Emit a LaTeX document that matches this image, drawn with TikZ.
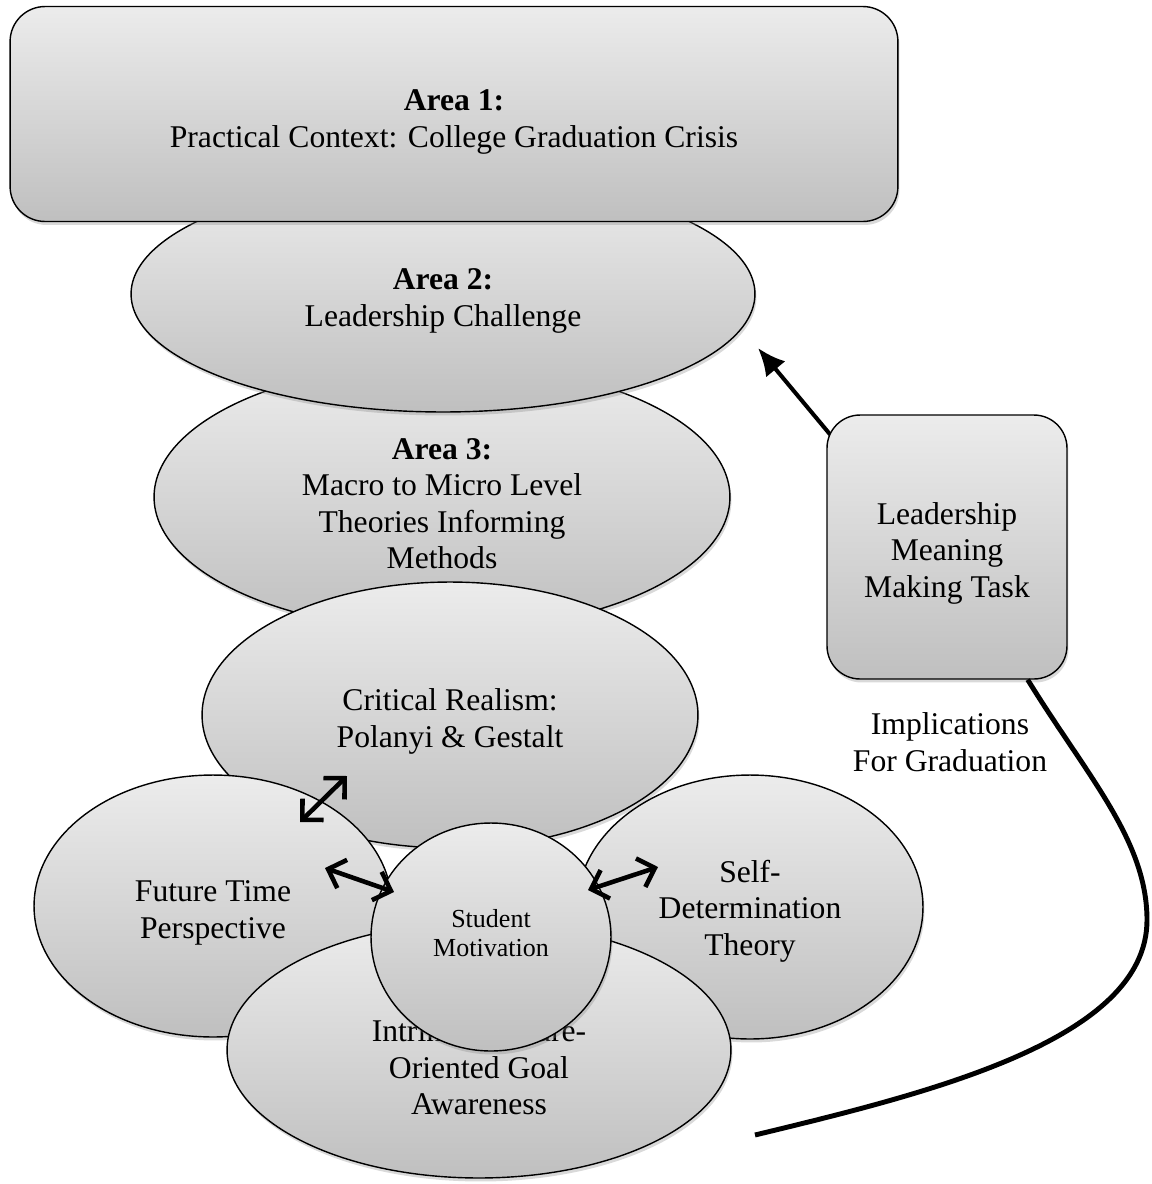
\documentclass[tikz,border=0pt]{standalone}
\usepackage{fontspec}
\setmainfont{Liberation Serif}
\usetikzlibrary{shapes.geometric,shadows,arrows.meta,backgrounds}

\begin{document}
\begin{tikzpicture}[x=0.02cm,y=-0.02cm]
	\tikzstyle{area}=[draw,line width=0.8pt,top color=gray!15,bottom color=gray!50,
		drop shadow={opacity=0.3,shadow xshift=0.03cm,shadow yshift=-0.07cm},
		align=center,inner sep=0pt,font=\fontsize{18}{20.8}\selectfont,text depth=0pt]
	\tikzstyle{oval}=[area,shape=ellipse]
	\tikzstyle{areabox}=[area,shape=rectangle,rounded corners=0.7cm]
	\tikzstyle{twoway}=[{Straight Barb[length=0.3cm,width=0.6cm]}-{Straight Barb[length=0.3cm,width=0.6cm]},line width=2.6pt]
	\tikzstyle{lead}=[-{Latex[length=0.55cm,width=0.5cm]},line width=2.3pt]
	
	\useasboundingbox (0,0) rectangle (1152,1184);
	
	% stack of areas
	\node[oval,minimum width=11.52cm,minimum height=5.36cm,text height=2.87cm](a3) at (442,497){\textbf{Area 3:}\\Macro to Micro Level\\Theories Informing\\Methods};
	\node[oval,minimum width=12.48cm,minimum height=4.72cm,text height=1.28cm](a2) at (443,294){\textbf{Area 2:}\\Leadership Challenge};
	\node[areabox,minimum width=17.76cm,minimum height=4.3cm,text height=1.32cm](a1) at (454,114){\textbf{Area 1:}\\Practical Context: College Graduation Crisis};
	
	% theories
	\node[oval,minimum width=9.92cm,minimum height=5.32cm,text height=1.28cm](cr) at (450,715){Critical Realism:\\Polanyi \& Gestalt};
	\node[oval,minimum width=7.16cm,minimum height=5.24cm,text height=1.28cm](ftp) at (213,906){Future Time\\Perspective};
	\node[oval,minimum width=6.92cm,minimum height=5.28cm,text height=1.94cm](sdt) at (750,907){Self-\\Determination\\Theory};
	\node[oval,minimum width=10.08cm,minimum height=5.12cm,
		label={[align=center,yshift=-0.36cm,font=\fontsize{18}{20.8}\selectfont]center:{Intrinsic, Future-\\Oriented Goal\\Awareness}}](intr) at (479,1050){};
	\node[oval,minimum width=4.8cm,minimum height=4.56cm,font=\fontsize{14.8}{17}\selectfont,
		text depth=0.16cm](sm) at (491,937){Student\\Motivation};
	
	% task and outcome
	\node[areabox,rounded corners=0.66cm,minimum width=4.8cm,minimum height=5.28cm,text height=2.02cm](lmm) at (947,547){Leadership\\Meaning\\Making Task};
	\node[align=center,font=\fontsize{18}{20.8}\selectfont](impl) at (950,742){Implications\\For Graduation};
	
	\coordinate (ldtip) at (758,348);
	\coordinate (gradend) at (755,1135);
	\begin{scope}[on background layer]
		\draw[lead] ([shift={(12,30)}]lmm.north west) -- (ldtip);
	\end{scope}
	\draw[line width=2.8pt] ([shift={(-40,0)}]lmm.south east) .. controls (1087,776) and (1147,840) .. (1147,920)
		.. controls (1147,1040) and (929,1093) .. (gradend);
	
	% links to student motivation
	\coordinate (c1) at (300,822);
	\coordinate (c2) at (347,776);
	\coordinate (f1) at (325,868);
	\coordinate (s1) at (394,892);
	\coordinate (s2) at (588,890);
	\coordinate (d1) at (658,867);
	\draw[twoway] (c1) -- (c2);
	\draw[twoway] (f1) -- (s1);
	\draw[twoway] (s2) -- (d1);
	
\end{tikzpicture}
\end{document}
